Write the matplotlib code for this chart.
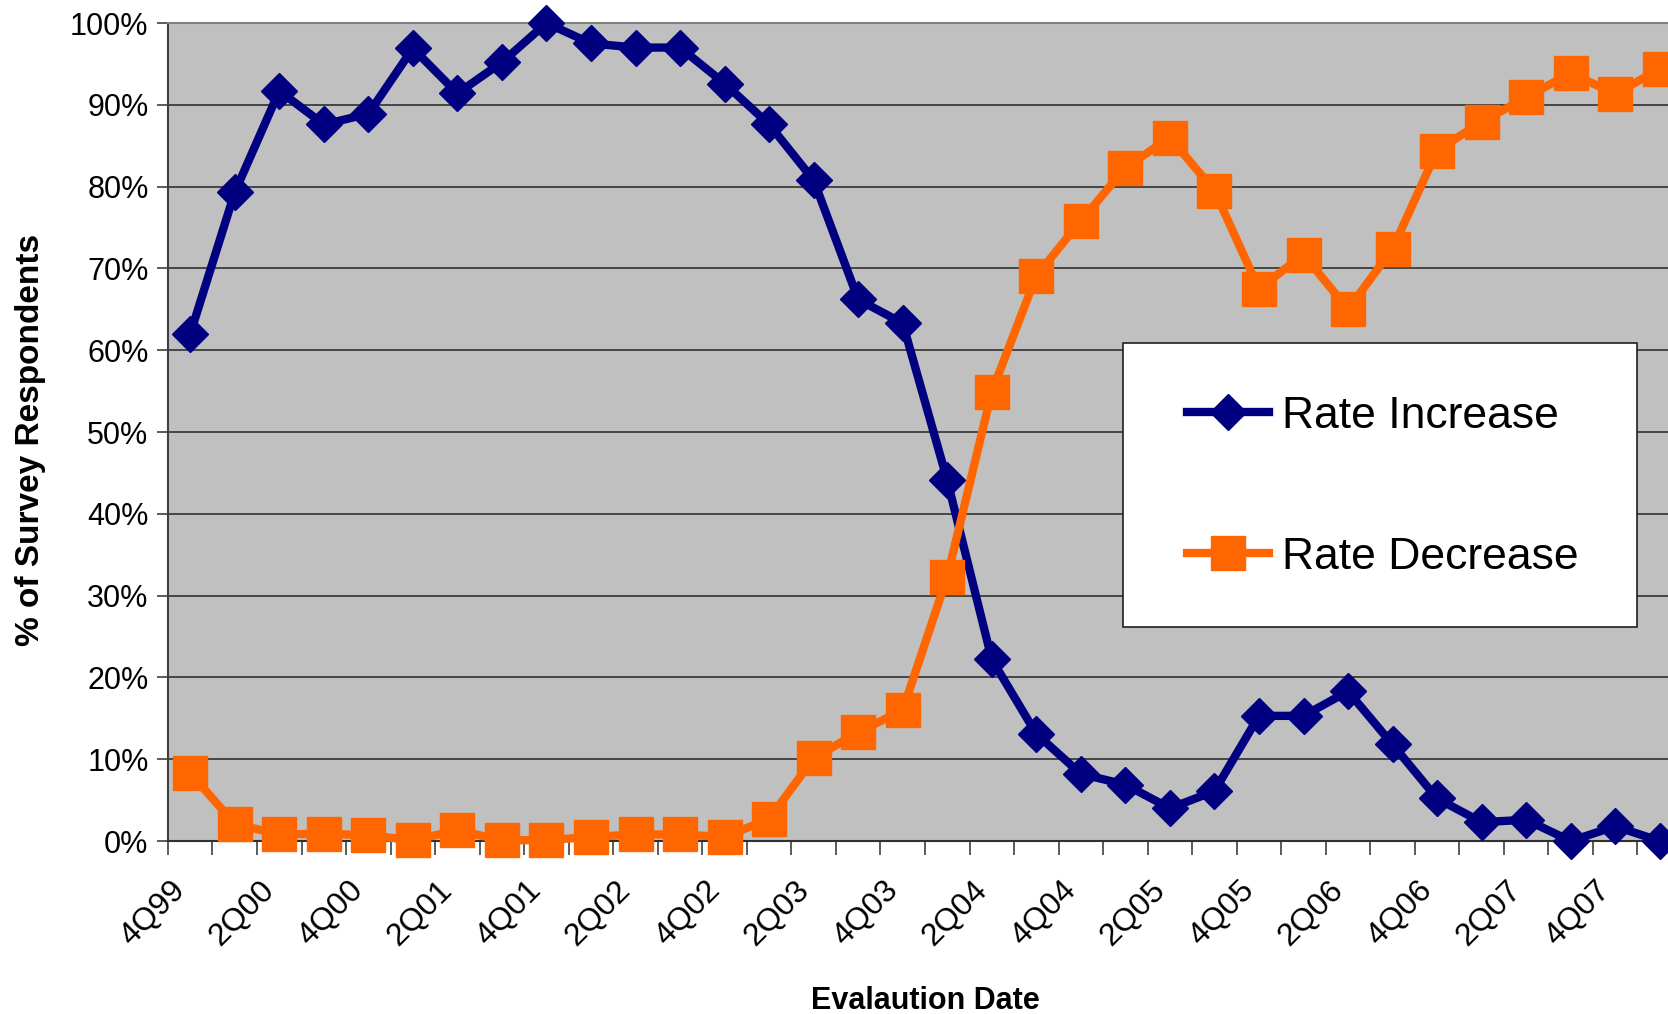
import matplotlib
matplotlib.use("Agg")
import matplotlib.pyplot as plt
import matplotlib.transforms as mtransforms
from matplotlib.patches import Rectangle
import numpy as np

plt.rcParams['font.family'] = ['Liberation Sans', 'DejaVu Sans']

# survey quarters, 4Q99 .. 1Q08
quarters = ["4Q99", "1Q00", "2Q00", "3Q00", "4Q00", "1Q01", "2Q01", "3Q01",
            "4Q01", "1Q02", "2Q02", "3Q02", "4Q02", "1Q03", "2Q03", "3Q03",
            "4Q03", "1Q04", "2Q04", "3Q04", "4Q04", "1Q05", "2Q05", "3Q05",
            "4Q05", "1Q06", "2Q06", "3Q06", "4Q06", "1Q07", "2Q07", "3Q07",
            "4Q07", "1Q08"]

# % of respondents reporting a rate increase / decrease
rate_increase = [62.0, 79.3, 91.7, 87.6, 88.9, 96.9, 91.4, 95.2, 100.0, 97.5,
                 97.0, 97.0, 92.6, 87.6, 80.8, 66.2, 63.3, 44.1, 22.2, 13.1,
                 8.2, 6.9, 4.0, 6.1, 15.3, 15.3, 18.3, 11.8, 5.2, 2.3,
                 2.6, 0.0, 1.8, 0.0]
rate_decrease = [8.3, 2.1, 0.8, 0.9, 0.7, 0.1, 1.3, 0.1, 0.1, 0.5,
                 0.8, 0.8, 0.5, 2.7, 10.1, 13.3, 16.0, 32.3, 54.9, 69.1,
                 75.8, 82.3, 86.0, 79.5, 67.5, 71.7, 65.0, 72.4, 84.4, 87.9,
                 90.9, 93.9, 91.3, 94.4]

# every second quarter gets a label
tick_labels = quarters[::2]

navy = '#000080'
orange = '#FF6600'

fig = plt.figure(figsize=(16.68, 10.14), dpi=100)
ax = fig.add_axes([0.1007, 0.1706, 0.9077, 0.8067])
ax.set_facecolor('#C0C0C0')

x = np.arange(len(quarters))
ax.plot(x, rate_increase, color=navy, lw=6, marker='D', ms=18.5,
        label='Rate Increase', clip_on=False, zorder=3)
ax.plot(x, rate_decrease, color=orange, lw=6, marker='s', ms=24,
        label='Rate Decrease', clip_on=False, zorder=4)

ax.set_xlim(-0.5, len(quarters) - 0.5)
ax.set_ylim(0, 100)

# y axis: 10% steps with horizontal gridlines
ax.set_yticks(np.arange(0, 101, 10))
ax.set_yticklabels([f'{v}%' for v in range(0, 101, 10)], fontsize=22)
ax.yaxis.grid(True, color='#303030', lw=1.2)
ax.set_axisbelow(True)
ax.tick_params(axis='y', direction='out', length=8, width=1.2,
               color='#404040', pad=6)

# x axis: ticks between categories, labels on minor ticks
ax.set_xticks(np.arange(-0.5, len(quarters), 1))
ax.set_xticklabels([])
ax.tick_params(axis='x', which='major', direction='out', length=10,
               width=1.2, color='#404040')
ax.set_xticks(x[::2], minor=True)
ax.set_xticklabels(tick_labels, minor=True, rotation=45, ha='right',
                   va='center', rotation_mode='anchor', fontsize=23)
ax.tick_params(axis='x', which='minor', length=0, pad=31)

# nudge the slanted labels a little to the left
shift = mtransforms.ScaledTranslation(-6.7 / 72, -1.5 / 72, fig.dpi_scale_trans)
for lbl in ax.get_xticklabels(minor=True):
    lbl.set_transform(lbl.get_transform() + shift)

ax.spines['right'].set_visible(False)
ax.spines['top'].set_color('#808080')
ax.spines['top'].set_linewidth(1.5)
ax.spines['left'].set_color('#404040')
ax.spines['left'].set_linewidth(1.5)
ax.spines['bottom'].set_color('#303030')
ax.spines['bottom'].set_linewidth(1.5)

ax.set_ylabel('% of Survey Respondents', fontsize=24, fontweight='bold')
ax.yaxis.set_label_coords(-0.0806, 0.49)
ax.set_xlabel('Evalaution Date', fontsize=22, fontweight='bold', labelpad=24)

# legend box drawn separately so the padding can be set on each side
ax.add_patch(Rectangle((0.6308, 0.2616), 0.3395, 0.3473,
                       transform=ax.transAxes, facecolor='white',
                       edgecolor='#202020', lw=1.2, zorder=5, clip_on=False))
leg = ax.legend(loc='upper left', bbox_to_anchor=(0.673, 0.544),
                borderaxespad=0, borderpad=0, fontsize=32, numpoints=1,
                handlelength=1.85, handletextpad=0.28, labelspacing=2.25,
                frameon=False)
leg.set_zorder(6)

fig.savefig('out.png', dpi=100)
